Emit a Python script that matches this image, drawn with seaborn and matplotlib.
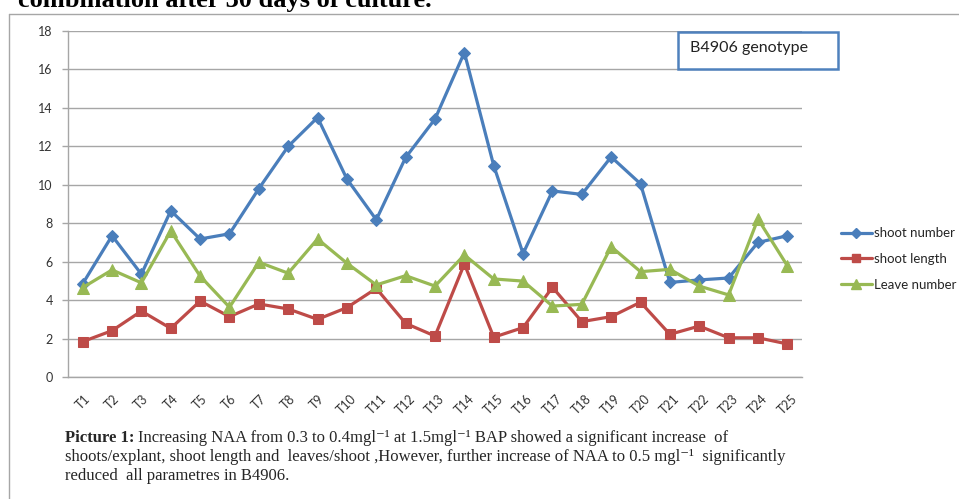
import matplotlib
matplotlib.use("Agg")
import matplotlib.pyplot as plt
from matplotlib.lines import Line2D
from matplotlib.patches import Rectangle
import numpy as np
import pandas as pd
import seaborn as sns

# Treatments and measured responses (B4906 genotype)
treatments = [f"T{i}" for i in range(1, 26)]
shoot_number = [4.85, 7.35, 5.35, 8.65, 7.18, 7.45, 9.8, 12.0, 13.5, 10.3,
                8.18, 11.42, 13.42, 16.88, 11.0, 6.42, 9.68, 9.5, 11.45, 10.05,
                4.92, 5.05, 5.15, 7.0, 7.35]
shoot_length = [1.84, 2.41, 3.43, 2.53, 3.95, 3.14, 3.80, 3.54, 3.0, 3.61,
                4.61, 2.79, 2.13, 5.88, 2.07, 2.57, 4.67, 2.88, 3.14, 3.89,
                2.22, 2.65, 2.04, 2.04, 1.72]
leave_number = [4.65, 5.57, 4.9, 7.6, 5.25, 3.63, 5.97, 5.4, 7.18, 5.92,
                4.79, 5.27, 4.73, 6.35, 5.10, 4.99, 3.69, 3.78, 6.78, 5.48,
                5.6, 4.73, 4.27, 8.22, 5.79]
series_names = ["shoot number", "shoot length", "Leave number"]
y_ticks = list(range(0, 19, 2))

sns.set_style("white")
plt.rcParams["font.family"] = ["Lato", "DejaVu Sans"]

fig = plt.figure(figsize=(9.59, 4.99), dpi=100)
fig.patch.set_facecolor("white")
ax = fig.add_axes([68 / 959, 1 - 377 / 499, 734 / 959, 346 / 499])

colors = ["#4A7EBB", "#BE4B48", "#98B954"]
markers = ["D", "s", "^"]
msizes = [6.0, 7.5, 8.5]
values = [shoot_number, shoot_length, leave_number]

x_pos = np.arange(len(treatments))
for name, vals, c, m, ms in zip(series_names, values, colors, markers, msizes):
    df = pd.DataFrame({"x": x_pos, "y": vals})
    sns.lineplot(data=df, x="x", y="y", ax=ax, color=c, linewidth=2.3,
                 marker=m, markersize=ms, markeredgecolor=c, markerfacecolor=c,
                 label=name, legend=False, zorder=3)

ax.set_xlim(-0.5, len(treatments) - 0.5)
ax.set_ylim(0, 18)
ax.set_yticks(y_ticks)
ax.set_yticklabels([str(v) for v in y_ticks], fontsize=9, color="#333333")
ax.yaxis.grid(True, color="#A6A6A6", linewidth=1.0)
ax.set_axisbelow(True)
ax.set_xlabel("")
ax.set_ylabel("")

ax.set_xticks(x_pos)
ax.set_xticklabels(treatments, rotation=45, ha="center", va="top",
                   fontsize=9, color="#333333")
ax.set_xticks(np.arange(-0.5, len(treatments), 1.0), minor=True)
ax.tick_params(axis="x", which="major", length=0, pad=11)
ax.tick_params(axis="x", which="minor", length=4, color="#A6A6A6", width=1)
ax.tick_params(axis="y", which="major", length=4, color="#A6A6A6", width=1,
               pad=7, left=True)

for s in ["top", "right"]:
    ax.spines[s].set_visible(False)
for s in ["left", "bottom"]:
    ax.spines[s].set_color("#A6A6A6")
    ax.spines[s].set_linewidth(1.0)

# Legend on the right
handles = [Line2D([0], [0], color=c, linewidth=2.3, marker=m, markersize=ms * 0.85,
                  markeredgecolor=c, markerfacecolor=c)
           for c, m, ms in zip(colors, markers, msizes)]
fig.legend(handles, series_names, loc="center left",
           bbox_to_anchor=(834 / 959, 1 - 259 / 499), frameon=False,
           fontsize=9.5, handlelength=2.4, handletextpad=0.15, labelspacing=1.05,
           borderpad=0)

# Genotype label box
fig.patches.append(Rectangle((678 / 959, 1 - 69 / 499), 160 / 959, 37 / 499,
                             transform=fig.transFigure, fill=True,
                             facecolor="white", edgecolor="#4F81BD",
                             linewidth=1.8, zorder=5))
fig.text(690 / 959, 1 - 48 / 499, "B4906 genotype", fontsize=11.5,
         va="center", ha="left", color="#222222", zorder=6)

# Outer frame lines
fig.add_artist(Line2D([9 / 959, 1.0], [1 - 14 / 499, 1 - 14 / 499],
                      transform=fig.transFigure, color="#A6A6A6", linewidth=1.0))
fig.add_artist(Line2D([9 / 959, 9 / 959], [0, 1 - 14 / 499],
                      transform=fig.transFigure, color="#A6A6A6", linewidth=1.0))

# Heading line above the chart
serif = ["Liberation Serif", "DejaVu Serif"]
fig.text(18 / 959, 1 - 7 / 499, "combination after 30 days of culture.",
         family=serif, fontweight="bold", fontsize=19, va="baseline",
         ha="left", color="black")

# Caption
renderer = fig.canvas.get_renderer()
cap_x = 65 / 959
cap_size = 12
base_y = [1 - 442 / 499, 1 - 461 / 499, 1 - 480 / 499]
bold = fig.text(cap_x, base_y[0], "Picture 1:", family=serif,
                fontweight="bold", fontsize=cap_size, va="baseline", ha="left")
bb = bold.get_window_extent(renderer=renderer)
fig.text(bb.x1 / fig.bbox.width + 4 / 959, base_y[0],
         "Increasing NAA from 0.3 to 0.4mgl\u207b\u00b9 at 1.5mgl\u207b\u00b9"
         " BAP showed a significant increase  of",
         family=serif, fontsize=cap_size, va="baseline", ha="left")
fig.text(cap_x, base_y[1],
         "shoots/explant, shoot length and  leaves/shoot ,However, further increase"
         " of NAA to 0.5 mgl\u207b\u00b9  significantly",
         family=serif, fontsize=cap_size, va="baseline", ha="left")
fig.text(cap_x, base_y[2], "reduced  all parametres in B4906.",
         family=serif, fontsize=cap_size, va="baseline", ha="left")

fig.savefig("out.png", dpi=100, facecolor="white")
